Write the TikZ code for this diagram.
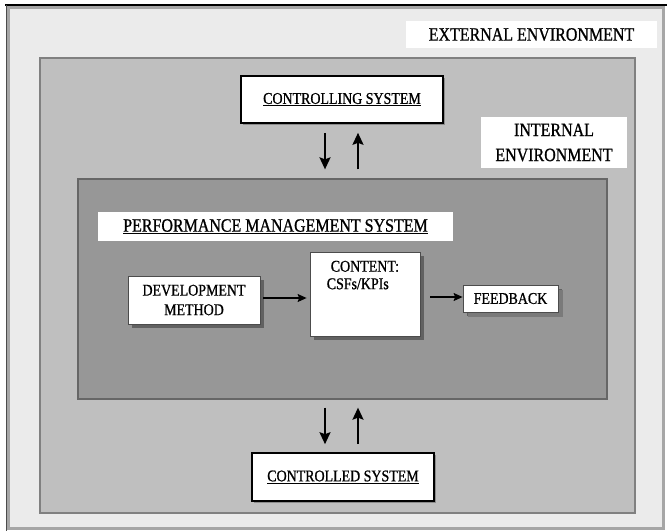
\documentclass[tikz,border=0pt]{standalone}
\usepackage{fontspec}
\setmainfont{Liberation Serif}[FakeStretch=0.85,FakeBold=0.9]
\usetikzlibrary{arrows.meta,shadows}
\definecolor{outerbg}{HTML}{EBEBEB}
\definecolor{innerbg}{HTML}{BFBFBF}
\definecolor{pmsbg}{HTML}{979797}
\tikzset{
  biglab/.style={fill=white, inner sep=0pt, align=center, font=\fontsize{18.8}{25}\selectfont},
  sysbox/.style={draw=black, line width=1.6pt, fill=white, inner sep=0pt,
    font=\fontsize{16.4}{19}\selectfont,
    drop shadow={shadow xshift=1.8pt, shadow yshift=-1.8pt, fill=black!45, opacity=1}},
  inbox/.style={draw=black!70, line width=0.8pt, fill=white, inner sep=0pt, align=center,
    font=\fontsize{16.4}{19.5}\selectfont,
    drop shadow={shadow xshift=4pt, shadow yshift=-4pt, fill=black!62, opacity=1}},
  bigarr/.style={line width=2pt, -{Stealth[length=12pt,width=11pt,inset=2pt]}},
  smallarr/.style={line width=1.1pt, -{Stealth[length=9pt,width=8pt,inset=1.5pt]}},
}
\begin{document}
\begin{tikzpicture}[x=1pt,y=-1pt]
\useasboundingbox (0,0) rectangle (667,531);
\fill[white] (0,0) rectangle (667,531);
% outer environment
\draw[fill=outerbg, draw=black!35, line width=2.5pt] (8.5,7.5) rectangle (663.5,528.5);
\draw[black, line width=2pt] (5,5) -- (667,5);
\draw[black!70, line width=1pt] (6.5,5) -- (6.5,531);
% internal environment
\node[draw=black!50, line width=1.5pt, fill=innerbg, minimum width=595pt, minimum height=455pt,
      inner sep=0pt, drop shadow={shadow xshift=1pt, shadow yshift=-1pt, fill=black!40, opacity=1}]
      (ienv) at (337.5,285.5) {};
\node[biglab, minimum width=251pt, minimum height=27pt] (ext) at (531.5,34.5) {EXTERNAL ENVIRONMENT};
\node[biglab, minimum width=146pt, minimum height=51pt] (intl) at (554,142.5) {INTERNAL\\ENVIRONMENT};
% performance management system
\node[draw=black!60, line width=1.3pt, fill=pmsbg, minimum width=529pt, minimum height=220pt,
      inner sep=0pt] (pms) at (342.5,289) {};
\node[biglab, minimum width=355pt, minimum height=29pt] (pmsl) at (275.5,226.5) {\underline{PERFORMANCE MANAGEMENT SYSTEM}};
% systems
\node[sysbox, minimum width=202pt, minimum height=47pt] (ctrl) at (342,99.5) {\underline{CONTROLLING SYSTEM}};
\node[sysbox, minimum width=182pt, minimum height=48pt] (ctrld) at (343,477) {\underline{CONTROLLED SYSTEM}};
% inner boxes
\node[inbox, minimum width=132pt, minimum height=48pt] (dev) at (194,300) {DEVELOPMENT\\METHOD};
\node[inbox, minimum width=110pt, minimum height=84pt] (content) at (365,294) {};
\node[anchor=north west, inner sep=0pt, align=left, font=\fontsize{16.4}{17.5}\selectfont] (contentl)
      at ([xshift=17pt,yshift=-9pt]content.north west) {\hspace*{4pt}CONTENT:\\CSFs/KPIs};
\node[inbox, minimum width=95pt, minimum height=27pt,
      drop shadow={shadow xshift=5pt, shadow yshift=-5pt, fill=black!52, opacity=1}] (fb) at (510.5,298.5) {FEEDBACK};
% arrows top
\draw[bigarr] ([xshift=-17pt,yshift=-9pt]ctrl.south) -- ([xshift=-17.5pt,yshift=9pt]pms.north);
\draw[bigarr] ([xshift=15.5pt,yshift=9pt]pms.north) -- ([xshift=16pt,yshift=-9pt]ctrl.south);
% arrows bottom
\draw[bigarr] ([xshift=-17.5pt,yshift=-8pt]pms.south) -- ([xshift=-18pt,yshift=8pt]ctrld.north);
\draw[bigarr] ([xshift=15pt,yshift=8pt]ctrld.north) -- ([xshift=15.5pt,yshift=-8pt]pms.south);
% horizontal arrows
\draw[smallarr] ([xshift=3pt,yshift=2pt]dev.east) -- ([xshift=-3pt,yshift=2pt]dev.east -| content.west);
\draw[smallarr] ([xshift=10pt,yshift=1.5pt]content.east |- fb.west) -- ([yshift=1.5pt]fb.west);
\end{tikzpicture}
\end{document}
